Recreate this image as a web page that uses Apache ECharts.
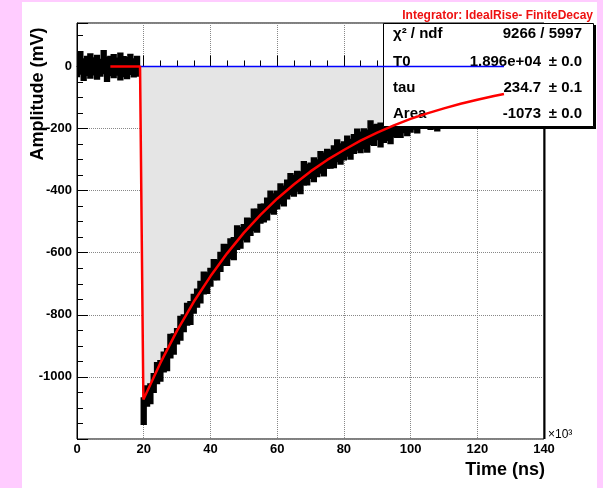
<!DOCTYPE html>
<html>
  <head>
    <title></title>
    <meta charset="UTF-8" />
    <script src="https://cdn.jsdelivr.net/npm/echarts@6/dist/echarts.min.js"></script>
  </head>
  <body style="margin:0">
    <div id="main"></div>
    <script>
      const width = 603;
      const height = 488;
      const main = document.getElementById('main');
      main.style.width = `${width}px`;
      main.style.height = `${height}px`;

      const font = '"Liberation Sans", Arial, sans-serif';

      // fit curve (x in 10^3 ns, amplitude in mV)
      const fitX = [10, 18.9, 19.9, 25, 30, 35, 40, 45, 50, 55, 60, 65, 70, 75, 80, 85, 90, 95, 100, 105, 110, 115, 120, 125, 128];
      const fitY = [0, 0, -1073, -955, -851, -758, -676, -602, -536, -478, -426, -380, -338, -301, -269, -239, -213, -190, -169, -151, -135, -120, -107, -95, -89];

      // baseline (blue)
      const baseX = [18.9, 128];
      const baseY = [0, 0];

      // noisy waveform envelope, one 10^3 ns bin each
      const noiseX = [0, 1, 2, 3, 4, 5, 6, 7, 8, 9, 10, 11, 12, 13, 14, 15, 16, 17, 18,
        20, 21, 22, 23, 24, 25, 26, 27, 28, 29, 30, 31, 32, 33, 34, 35, 36, 37, 38, 39, 40,
        41, 42, 43, 44, 45, 46, 47, 48, 49, 50, 51, 52, 53, 54, 55, 56, 57, 58, 59, 60,
        61, 62, 63, 64, 65, 66, 67, 68, 69, 70, 71, 72, 73, 74, 75, 76, 77, 78, 79, 80,
        81, 82, 83, 84, 85, 86, 87, 88, 89, 90, 91, 92, 93, 94, 95, 96, 97, 98, 99, 100,
        101, 102, 103, 104, 105, 106, 107, 108, 109];
      const noiseHigh = [28, 45, 22, 30, 38, 25, 33, 20, 48, 27, 30, 35, 24, 40, 29, 26, 36, 22, 30,
        -1070, -1032, -1025, -992, -957, -950, -923, -912, -866, -864, -847,
        -808, -803, -766, -760, -737, -720, -695, -665, -668, -653,
        -625, -627, -602, -576, -577, -558, -554, -516, -522, -512,
        -491, -493, -462, -463, -447, -446, -427, -404, -413, -404,
        -381, -388, -369, -348, -354, -341, -342, -309, -319, -314,
        -297, -304, -277, -282, -270, -273, -259, -239, -252, -246,
        -227, -238, -222, -205, -214, -204, -208, -178, -191, -189,
        -185, -194, -171, -178, -169, -174, -162, -145, -160, -157,
        -140, -153, -140, -124, -136, -120, -128, -115, -125];
      const noiseLow = [-30, -22, -42, -26, -35, -24, -38, -28, -20, -45, -27, -33, -25, -40, -30, -36, -23, -31, -28,
        -1150, -1091, -1083, -1047, -1019, -1011, -981, -977, -936, -924, -891,
        -879, -851, -830, -828, -792, -772, -759, -730, -728, -705,
        -684, -685, -657, -638, -638, -616, -619, -586, -582, -556,
        -562, -541, -526, -531, -502, -498, -491, -469, -473, -456,
        -440, -446, -424, -410, -415, -399, -407, -379, -379, -358,
        -368, -352, -341, -350, -325, -325, -323, -304, -312, -298,
        -286, -296, -277, -267, -275, -262, -273, -248, -251, -233,
        -256, -242, -235, -246, -224, -226, -226, -210, -220, -209,
        -199, -211, -195, -186, -197, -200, -172, -205, -182];

      // fit statistics box
      const statLabels = ['\u03c7\u00b2 / ndf', 'T0', 'tau', 'Area'];
      const statValues = ['9266 / 5997', '1.896e+04', '234.7', '-1073'];
      const statErrors = ['', '\u00b1 0.0', '\u00b1 0.1', '\u00b1 0.0'];

      const fitData = fitX.map((x, i) => [x, fitY[i]]);
      const noiseData = noiseX.map((x, i) => [x, noiseLow[i], noiseHigh[i]]);

      const rowY = [34, 62, 88, 114];
      const boxText = [];
      statLabels.forEach((t, i) => {
        boxText.push({ type: 'text', x: 393, y: rowY[i], z: 21,
          style: { text: t, font: `bold 15px ${font}`, fill: '#000', verticalAlign: 'middle' } });
        if (statErrors[i]) {
          boxText.push({ type: 'text', x: 541, y: rowY[i], z: 21,
            style: { text: statValues[i], font: `bold 15px ${font}`, fill: '#000', align: 'right', verticalAlign: 'middle' } });
          boxText.push({ type: 'text', x: 582, y: rowY[i], z: 21,
            style: { text: statErrors[i], font: `bold 15px ${font}`, fill: '#000', align: 'right', verticalAlign: 'middle' } });
        } else {
          boxText.push({ type: 'text', x: 582, y: rowY[i], z: 21,
            style: { text: statValues[i], font: `bold 15px ${font}`, fill: '#000', align: 'right', verticalAlign: 'middle' } });
        }
      });

      const axisCommon = {
        axisLine: { lineStyle: { color: '#000', width: 1 } },
        axisTick: { inside: true, length: 11, lineStyle: { color: '#000' } },
        minorTick: { show: true, splitNumber: 4, length: 6, lineStyle: { color: '#000' } },
        splitLine: { show: true, lineStyle: { color: '#888', type: 'dotted', width: 1 } },
        axisLabel: { color: '#000', fontFamily: font, fontWeight: 'bold', fontSize: 13, formatter: v => String(v) }
      };

      const myChart = echarts.init(main);
      const option = {
        backgroundColor: '#fff',
        animation: false,
        grid: {
          left: 77, right: 59, top: 23, bottom: 49,
          show: true, borderColor: '#000', borderWidth: 1
        },
        xAxis: {
          type: 'value', min: 0, max: 140, interval: 20,
          ...axisCommon,
          axisLabel: { ...axisCommon.axisLabel, margin: 4 }
        },
        yAxis: {
          type: 'value', min: -1200, max: 140, interval: 200,
          ...axisCommon,
          axisLabel: { ...axisCommon.axisLabel, margin: 5, showMinLabel: false, showMaxLabel: false }
        },
        graphic: [
          { type: 'rect', shape: { x: 0, y: 0, width: 22, height: 488 }, style: { fill: '#ffccff' } },
          { type: 'rect', shape: { x: 0, y: 0, width: 603, height: 2 }, style: { fill: '#ffccff' } },
          { type: 'rect', shape: { x: 597, y: 0, width: 6, height: 488 }, style: { fill: '#ffccff' } },
          { type: 'line', z: 10, shape: { x1: 544.5, y1: 23, x2: 544.5, y2: 439 }, style: { stroke: '#000', lineWidth: 2 } },
          { type: 'text', x: 593, y: 16,
            style: { text: 'Integrator: IdealRise- FiniteDecay', font: `bold 12px ${font}`, fill: '#ee1111', align: 'right', verticalAlign: 'middle' } },
          { type: 'text', x: 38, y: 94, rotation: Math.PI / 2,
            style: { text: 'Amplitude (mV)', font: `bold 18px ${font}`, fill: '#000', align: 'center', verticalAlign: 'middle' } },
          { type: 'text', x: 545, y: 470,
            style: { text: 'Time (ns)', font: `bold 18px ${font}`, fill: '#000', align: 'right', verticalAlign: 'middle' } },
          { type: 'text', x: 548, y: 435,
            style: { text: '\u00d710\u00b3', font: `12px ${font}`, fill: '#000', align: 'left', verticalAlign: 'middle' } },
          { type: 'rect', z: 20, shape: { x: 385, y: 25, width: 211, height: 104 }, style: { fill: '#000' } },
          { type: 'rect', z: 20, shape: { x: 383.5, y: 23.5, width: 210, height: 103 }, style: { fill: '#fff', stroke: '#000', lineWidth: 1 } },
          ...boxText
        ],
        series: [
          {
            // shaded integral region
            type: 'line', z: 1, silent: true, showSymbol: false,
            data: fitData.slice(1),
            lineStyle: { width: 0 },
            areaStyle: { color: '#e5e5e5', opacity: 1 }
          },
          {
            type: 'custom', z: 3, silent: true, clip: true,
            data: noiseData,
            encode: { x: 0, y: [1, 2] },
            renderItem: (params, api) => {
              const p1 = api.coord([api.value(0) - 0.5, api.value(2)]);
              const p2 = api.coord([api.value(0) + 0.5, api.value(1)]);
              return {
                type: 'rect',
                shape: { x: p1[0], y: p1[1], width: p2[0] - p1[0], height: p2[1] - p1[1] },
                style: { fill: '#000', stroke: '#000', lineWidth: 3 }
              };
            }
          },
          {
            type: 'line', z: 30, silent: true, showSymbol: false,
            data: baseX.map((x, i) => [x, baseY[i]]),
            lineStyle: { color: '#0000ff', width: 1.5 }
          },
          {
            type: 'line', z: 31, silent: true, showSymbol: false,
            data: fitData,
            lineStyle: { color: '#ff0000', width: 2.5 }
          }
        ]
      };
      myChart.setOption(option);
    </script>
  </body>
</html>
